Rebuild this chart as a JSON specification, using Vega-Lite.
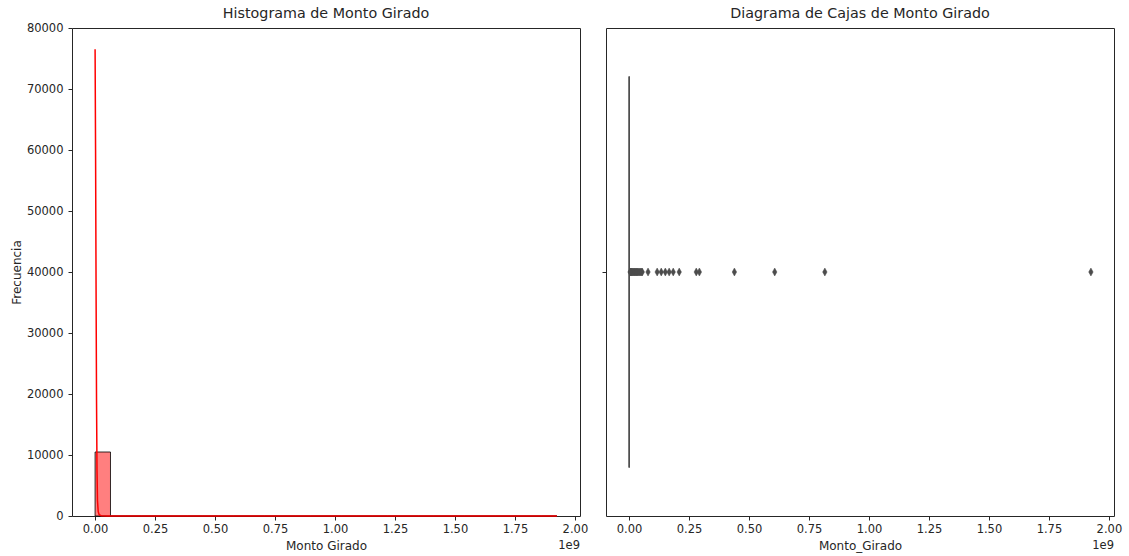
{
  "$schema": "https://vega.github.io/schema/vega-lite/v6.json",
  "padding": {"left": 9, "top": 6, "right": 10, "bottom": 5},
  "bounds": "flush",
  "spacing": 26,
  "config": {
    "font": "DejaVu Sans",
    "view": {"stroke": "#262626", "strokeWidth": 1},
    "axis": {
      "labelFont": "DejaVu Sans",
      "labelFontSize": 11.5,
      "labelColor": "#262626",
      "titleFont": "DejaVu Sans",
      "titleFontSize": 12,
      "titleFontWeight": "normal",
      "titleColor": "#262626",
      "tickColor": "#262626",
      "tickSize": 4,
      "tickWidth": 1,
      "labelPadding": 3,
      "titlePadding": 6,
      "domain": false,
      "grid": false
    },
    "axisY": {"labelPadding": 5, "titlePadding": 3},
    "title": {
      "font": "DejaVu Sans",
      "fontSize": 14.3,
      "fontWeight": "normal",
      "color": "#262626",
      "anchor": "middle"
    }
  },
  "datasets": {
    "histograma": [
      {"desde": 0, "hasta": 64166667, "frecuencia": 10490},
      {"desde": 64166667, "hasta": 128333333, "frecuencia": 2},
      {"desde": 128333333, "hasta": 192500000, "frecuencia": 4},
      {"desde": 192500000, "hasta": 256666667, "frecuencia": 1},
      {"desde": 256666667, "hasta": 320833333, "frecuencia": 2},
      {"desde": 320833333, "hasta": 385000000, "frecuencia": 0},
      {"desde": 385000000, "hasta": 449166667, "frecuencia": 1},
      {"desde": 449166667, "hasta": 513333333, "frecuencia": 0},
      {"desde": 513333333, "hasta": 577500000, "frecuencia": 0},
      {"desde": 577500000, "hasta": 641666667, "frecuencia": 1},
      {"desde": 641666667, "hasta": 705833333, "frecuencia": 0},
      {"desde": 705833333, "hasta": 770000000, "frecuencia": 0},
      {"desde": 770000000, "hasta": 834166667, "frecuencia": 1},
      {"desde": 834166667, "hasta": 898333333, "frecuencia": 0},
      {"desde": 898333333, "hasta": 962500000, "frecuencia": 0},
      {"desde": 962500000, "hasta": 1026666667, "frecuencia": 0},
      {"desde": 1026666667, "hasta": 1090833333, "frecuencia": 0},
      {"desde": 1090833333, "hasta": 1155000000, "frecuencia": 0},
      {"desde": 1155000000, "hasta": 1219166667, "frecuencia": 0},
      {"desde": 1219166667, "hasta": 1283333333, "frecuencia": 0},
      {"desde": 1283333333, "hasta": 1347500000, "frecuencia": 0},
      {"desde": 1347500000, "hasta": 1411666667, "frecuencia": 0},
      {"desde": 1411666667, "hasta": 1475833333, "frecuencia": 0},
      {"desde": 1475833333, "hasta": 1540000000, "frecuencia": 0},
      {"desde": 1540000000, "hasta": 1604166667, "frecuencia": 0},
      {"desde": 1604166667, "hasta": 1668333333, "frecuencia": 0},
      {"desde": 1668333333, "hasta": 1732500000, "frecuencia": 0},
      {"desde": 1732500000, "hasta": 1796666667, "frecuencia": 0},
      {"desde": 1796666667, "hasta": 1860833333, "frecuencia": 0},
      {"desde": 1860833333, "hasta": 1925000000, "frecuencia": 1}
    ],
    "kde": [
      {"monto": 0, "densidad": 76500},
      {"monto": 2000000, "densidad": 60000},
      {"monto": 4000000, "densidad": 38000},
      {"monto": 6000000, "densidad": 19000},
      {"monto": 8000000, "densidad": 7500},
      {"monto": 10000000, "densidad": 2500},
      {"monto": 13000000, "densidad": 700},
      {"monto": 17000000, "densidad": 200},
      {"monto": 25000000, "densidad": 50},
      {"monto": 50000000, "densidad": 15},
      {"monto": 100000000, "densidad": 5},
      {"monto": 200000000, "densidad": 3},
      {"monto": 300000000, "densidad": 2},
      {"monto": 450000000, "densidad": 1},
      {"monto": 600000000, "densidad": 1},
      {"monto": 800000000, "densidad": 1},
      {"monto": 1000000000, "densidad": 0},
      {"monto": 1500000000, "densidad": 0},
      {"monto": 1925000000, "densidad": 0}
    ],
    "caja": [
      {"bigote_inf": 0, "q1": 100000, "mediana": 300000, "q3": 900000, "bigote_sup": 2000000}
    ],
    "atipicos": [
      {"monto": 4000000}, {"monto": 6000000}, {"monto": 8000000}, {"monto": 10000000},
      {"monto": 12000000}, {"monto": 15000000}, {"monto": 18000000}, {"monto": 21000000},
      {"monto": 24000000}, {"monto": 27000000}, {"monto": 30000000}, {"monto": 33000000},
      {"monto": 36000000}, {"monto": 40000000}, {"monto": 44000000}, {"monto": 48000000},
      {"monto": 52000000}, {"monto": 55000000}, {"monto": 79000000}, {"monto": 117000000},
      {"monto": 134000000}, {"monto": 151000000}, {"monto": 167000000}, {"monto": 184000000},
      {"monto": 209000000}, {"monto": 280000000}, {"monto": 293000000}, {"monto": 439000000},
      {"monto": 607000000}, {"monto": 816000000}, {"monto": 1925000000}
    ]
  },
  "hconcat": [
    {
      "width": 508,
      "height": 488,
      "title": {"text": "Histograma de Monto Girado", "offset": 0.5},
      "layer": [
        {
          "data": {"name": "histograma"},
          "mark": {"type": "rect", "fill": "#ff0000", "fillOpacity": 0.5, "stroke": "#000000", "strokeWidth": 1, "strokeOpacity": 0.8},
          "encoding": {
            "x": {
              "field": "desde", "type": "quantitative", "title": "Monto Girado",
              "scale": {"domain": [-96250000, 2021250000], "nice": false, "zero": false},
              "axis": {"values": [0, 250000000, 500000000, 750000000, 1000000000, 1250000000, 1500000000, 1750000000, 2000000000], "labelExpr": "format(datum.value / 1e9, '.2f')", "labelFlush": false, "labelOverlap": false}
            },
            "x2": {"field": "hasta"},
            "y": {
              "field": "frecuencia", "type": "quantitative", "title": "Frecuencia",
              "scale": {"domain": [0, 80000], "nice": false},
              "axis": {"values": [0, 10000, 20000, 30000, 40000, 50000, 60000, 70000, 80000], "format": "d", "labelFlush": false, "labelOverlap": false}
            },
            "y2": {"datum": 0}
          }
        },
        {
          "data": {"name": "kde"},
          "mark": {"type": "line", "color": "#ff0000", "strokeWidth": 1.5},
          "encoding": {
            "x": {"field": "monto", "type": "quantitative", "title": "Monto Girado"},
            "y": {"field": "densidad", "type": "quantitative", "title": "Frecuencia"}
          }
        },
        {
          "data": {"values": [{"texto": "1e9"}]},
          "mark": {"type": "text", "align": "right", "baseline": "top", "dy": 24, "fontSize": 11.5, "color": "#262626"},
          "encoding": {
            "x": {"datum": 2021250000, "type": "quantitative", "title": "Monto Girado"},
            "y": {"datum": 0, "type": "quantitative", "title": "Frecuencia"},
            "text": {"field": "texto"}
          }
        }
      ]
    },
    {
      "width": 508,
      "height": 488,
      "title": {"text": "Diagrama de Cajas de Monto Girado", "offset": 7},
      "layer": [
        {
          "data": {"name": "caja"},
          "mark": {"type": "rect", "fillOpacity": 0, "stroke": "#4c4c4c", "strokeWidth": 1.25},
          "encoding": {
            "x": {
              "field": "q1", "type": "quantitative", "title": "Monto_Girado",
              "scale": {"domain": [-96250000, 2021250000], "nice": false, "zero": false},
              "axis": {"values": [0, 250000000, 500000000, 750000000, 1000000000, 1250000000, 1500000000, 1750000000, 2000000000], "labelExpr": "format(datum.value / 1e9, '.2f')", "labelFlush": false, "labelOverlap": false}
            },
            "x2": {"field": "q3"},
            "y": {
              "datum": -0.4, "type": "quantitative", "title": null,
              "scale": {"domain": [-0.5, 0.5], "nice": false, "zero": false},
              "axis": {"values": [0], "labels": false, "ticks": true}
            },
            "y2": {"datum": 0.4}
          }
        },
        {
          "data": {"name": "caja"},
          "mark": {"type": "rule", "color": "#4c4c4c", "strokeWidth": 1.25},
          "encoding": {
            "x": {"field": "mediana", "type": "quantitative", "title": "Monto_Girado"},
            "y": {"datum": -0.4, "type": "quantitative", "title": null},
            "y2": {"datum": 0.4}
          }
        },
        {
          "data": {"name": "caja"},
          "mark": {"type": "rule", "color": "#4c4c4c", "strokeWidth": 1.25},
          "encoding": {
            "x": {"field": "bigote_inf", "type": "quantitative", "title": "Monto_Girado"},
            "x2": {"field": "bigote_sup"},
            "y": {"datum": 0, "type": "quantitative", "title": null}
          }
        },
        {
          "data": {"name": "atipicos"},
          "mark": {"type": "point", "shape": "M0,-1L0.55,0L0,1L-0.55,0Z", "filled": true, "size": 64, "color": "#4c4c4c", "opacity": 1, "stroke": "#4c4c4c", "strokeWidth": 0.5},
          "encoding": {
            "x": {"field": "monto", "type": "quantitative", "title": "Monto_Girado"},
            "y": {"datum": 0, "type": "quantitative", "title": null}
          }
        },
        {
          "data": {"values": [{"texto": "1e9"}]},
          "mark": {"type": "text", "align": "right", "baseline": "top", "dy": 24, "fontSize": 11.5, "color": "#262626"},
          "encoding": {
            "x": {"datum": 2021250000, "type": "quantitative", "title": "Monto_Girado"},
            "y": {"datum": -0.5, "type": "quantitative", "title": null},
            "text": {"field": "texto"}
          }
        }
      ]
    }
  ]
}
